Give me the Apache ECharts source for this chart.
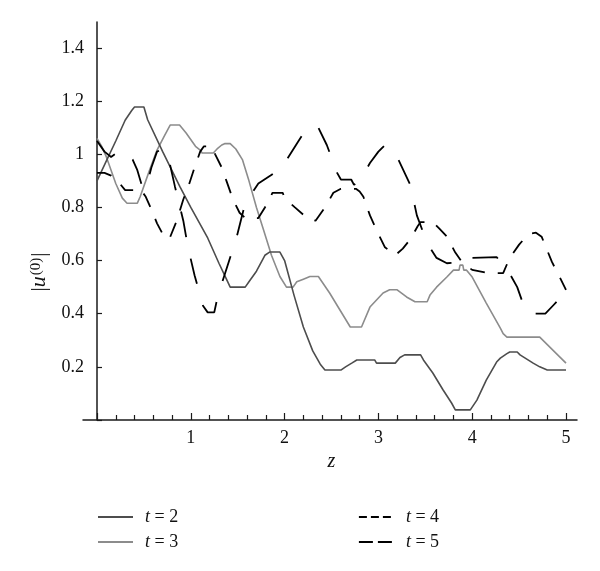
<!DOCTYPE html>
<html><head><meta charset="utf-8">
<script src="https://cdn.jsdelivr.net/npm/echarts@6/dist/echarts.min.js"></script>
<style>html,body{margin:0;padding:0;background:#fff}#c{width:600px;height:571px}</style>
</head><body><div id="c"></div>
<script>
// ---- data (z, |u|) ----
const seriesNames = ['t = 2', 't = 3', 't = 4', 't = 5'];
const t2 = [[0,0.90],[0.1,0.975],[0.2,1.05],[0.3,1.128],[0.37,1.165],[0.4,1.178],[0.5,1.178],[0.54,1.13],[0.7,1.01],[0.885,0.877],[1.0,0.80],[1.18,0.685],[1.3,0.59],[1.38,0.53],[1.42,0.5],[1.58,0.5],[1.62,0.52],[1.7,0.56],[1.76,0.6],[1.79,0.62],[1.84,0.632],[1.95,0.632],[2.0,0.6],[2.1,0.47],[2.2,0.35],[2.3,0.26],[2.38,0.21],[2.43,0.188],[2.6,0.188],[2.65,0.2],[2.72,0.215],[2.77,0.226],[2.96,0.226],[2.98,0.214],[3.18,0.214],[3.23,0.235],[3.28,0.245],[3.45,0.245],[3.48,0.226],[3.58,0.177],[3.69,0.113],[3.78,0.064],[3.82,0.038],[3.98,0.038],[4.05,0.075],[4.15,0.15],[4.26,0.218],[4.3,0.233],[4.37,0.25],[4.4,0.256],[4.48,0.256],[4.51,0.245],[4.65,0.214],[4.72,0.2],[4.8,0.188],[5.0,0.188]];
const t3 = [[0,1.06],[0.05,1.03],[0.1,0.99],[0.2,0.89],[0.27,0.835],[0.32,0.816],[0.43,0.816],[0.46,0.84],[0.55,0.93],[0.64,1.016],[0.72,1.07],[0.78,1.11],[0.88,1.11],[0.95,1.08],[1.05,1.03],[1.1,1.016],[1.12,1.005],[1.24,1.005],[1.28,1.02],[1.33,1.035],[1.36,1.04],[1.42,1.04],[1.48,1.02],[1.55,0.98],[1.62,0.9],[1.7,0.8],[1.78,0.71],[1.86,0.62],[1.95,0.54],[2.02,0.5],[2.09,0.5],[2.13,0.52],[2.2,0.53],[2.27,0.54],[2.36,0.54],[2.48,0.478],[2.59,0.414],[2.7,0.35],[2.82,0.35],[2.91,0.425],[3.05,0.478],[3.12,0.49],[3.2,0.49],[3.3,0.463],[3.39,0.445],[3.52,0.445],[3.55,0.47],[3.62,0.5],[3.73,0.538],[3.8,0.564],[3.86,0.564],[3.87,0.583],[3.9,0.583],[3.91,0.564],[3.94,0.564],[4.0,0.538],[4.15,0.44],[4.3,0.346],[4.33,0.325],[4.37,0.312],[4.72,0.312],[5.0,0.214]];
const t4 = [[0,0.93],[0.08,0.93],[0.15,0.92],[0.22,0.90],[0.3,0.865],[0.4,0.865],[0.46,0.87],[0.52,0.84],[0.57,0.80],[0.64,0.74],[0.7,0.70],[0.77,0.68],[0.85,0.75],[0.92,0.83],[0.98,0.885],[1.04,0.95],[1.1,1.01],[1.14,1.03],[1.22,1.03],[1.26,1.0],[1.33,0.95],[1.38,0.90],[1.45,0.83],[1.52,0.78],[1.58,0.76],[1.72,0.76],[1.79,0.80],[1.84,0.83],[1.87,0.855],[1.98,0.855],[2.0,0.835],[2.11,0.80],[2.24,0.76],[2.33,0.75],[2.43,0.80],[2.52,0.855],[2.6,0.87],[2.76,0.87],[2.8,0.86],[2.84,0.84],[2.91,0.77],[3.0,0.70],[3.07,0.65],[3.18,0.62],[3.26,0.645],[3.34,0.68],[3.42,0.73],[3.45,0.745],[3.58,0.745],[3.65,0.72],[3.73,0.69],[3.82,0.63],[3.9,0.59],[4.0,0.565],[4.17,0.553],[4.33,0.553],[4.4,0.61],[4.5,0.66],[4.6,0.70],[4.68,0.705],[4.74,0.69],[4.85,0.595],[4.93,0.54],[5.0,0.49]];
const t5 = [[0,1.05],[0.08,1.01],[0.15,0.99],[0.23,1.01],[0.3,1.01],[0.38,0.98],[0.43,0.94],[0.48,0.88],[0.52,0.87],[0.58,0.95],[0.64,1.01],[0.7,1.02],[0.76,0.99],[0.83,0.88],[0.92,0.75],[0.97,0.65],[1.04,0.545],[1.13,0.43],[1.18,0.405],[1.25,0.405],[1.29,0.47],[1.4,0.59],[1.49,0.69],[1.58,0.816],[1.72,0.89],[1.85,0.92],[1.97,0.95],[2.14,1.045],[2.24,1.10],[2.36,1.10],[2.45,1.035],[2.56,0.93],[2.6,0.905],[2.71,0.905],[2.74,0.885],[2.8,0.9],[2.91,0.967],[3.0,1.01],[3.07,1.035],[3.2,0.99],[3.34,0.885],[3.41,0.77],[3.52,0.665],[3.62,0.61],[3.73,0.59],[3.92,0.595],[4.0,0.61],[4.26,0.613],[4.37,0.57],[4.48,0.5],[4.54,0.44],[4.62,0.40],[4.78,0.40],[4.86,0.43],[4.94,0.46],[5.0,0.48]];
const xRange = [0, 5];
const yRange = [0, 1.4];

const FONT = '"Liberation Serif", "DejaVu Serif", serif';
const AX = '#1a1a1a';

const chart = echarts.init(document.getElementById('c'), null, {renderer: 'canvas'});
const legendFmt = name => '{i|t}{n|' + name.slice(1) + '}';
const legendRich = {
  i: {fontFamily: FONT, fontStyle: 'italic', fontSize: 18, color: '#111', padding: [0, 0, 0, 7]},
  n: {fontFamily: FONT, fontSize: 18, color: '#111'}
};
const legendBase = {top: 508, orient: 'vertical', padding: 0, itemWidth: 35, itemHeight: 20, itemGap: 7,
  itemStyle: {opacity: 0, color: 'transparent', borderWidth: 0},
  formatter: legendFmt, textStyle: {rich: legendRich}};
chart.setOption({
  animation: false,
  backgroundColor: '#fff',
  grid: [
    {left: 97, right: 34, top: 48, bottom: 151},
    {left: 83, right: 23, top: 48, bottom: 151},
    {left: 97, right: 34, top: 22, bottom: 151}
  ],
  xAxis: [
    {gridIndex: 0, type: 'value', min: xRange[0], max: xRange[1], interval: 1,
     axisLine: {show: false},
     axisTick: {show: true, inside: true, length: 7, lineStyle: {color: AX, width: 1.2}},
     minorTick: {show: true, splitNumber: 5, length: 5, lineStyle: {color: AX, width: 1.2}},
     splitLine: {show: false}, minorSplitLine: {show: false},
     axisLabel: {margin: 9, fontFamily: FONT, fontSize: 18, color: '#111', formatter: v => v === 0 ? '' : String(v)},
     name: 'z', nameLocation: 'middle', nameGap: 30,
     nameTextStyle: {fontFamily: FONT, fontStyle: 'italic', fontSize: 20, color: '#111'}},
    {gridIndex: 1, type: 'value', min: 0, max: 1,
     axisLine: {show: true, lineStyle: {color: AX, width: 1.5}},
     axisTick: {show: false}, axisLabel: {show: false}, splitLine: {show: false}},
    {gridIndex: 2, type: 'value', min: 0, max: 1, show: false}
  ],
  yAxis: [
    {gridIndex: 0, type: 'value', min: yRange[0], max: yRange[1], interval: 0.2,
     axisLine: {show: false},
     axisTick: {show: true, inside: true, length: 5, lineStyle: {color: AX, width: 1.2}},
     splitLine: {show: false},
     axisLabel: {margin: 13, fontFamily: FONT, fontSize: 18, color: '#111',
       formatter: v => v === 0 ? '' : String(Math.round(v * 10) / 10)},
     name: '|{u|u}{s|(0)}|', nameLocation: 'middle', nameGap: 33, nameRotate: 90,
     nameTextStyle: {fontFamily: FONT, fontSize: 21, color: '#111', padding: [0, 76, 0, 0],
       rich: {u: {fontFamily: FONT, fontStyle: 'italic', fontSize: 22, color: '#111'},
              s: {fontFamily: FONT, fontSize: 15, color: '#111', verticalAlign: 'top', padding: [0, 1, 8, 1]}}}},
    {gridIndex: 1, type: 'value', min: 0, max: 1, show: false},
    {gridIndex: 2, type: 'value', min: 0, max: 1,
     axisLine: {show: true, lineStyle: {color: AX, width: 1.5}},
     axisTick: {show: false}, axisLabel: {show: false}, splitLine: {show: false}}
  ],
  legend: [
    Object.assign({left: 97, data: [seriesNames[0], seriesNames[1]]}, legendBase),
    Object.assign({left: 358, data: [
       {name: seriesNames[2], lineStyle: {type: [8, 4], width: 1.8, color: '#000'}},
       {name: seriesNames[3], lineStyle: {type: [14, 5], width: 1.8, color: '#000'}}
     ]}, legendBase)
  ],
  series: [
    {name: seriesNames[0], type: 'line', data: t2, xAxisIndex: 0, yAxisIndex: 0, symbol: 'none', showSymbol: false,
     lineStyle: {color: '#4d4d4d', width: 1.6}, itemStyle: {color: '#4d4d4d'}, z: 3},
    {name: seriesNames[1], type: 'line', data: t3, xAxisIndex: 0, yAxisIndex: 0, symbol: 'none', showSymbol: false,
     lineStyle: {color: '#8c8c8c', width: 1.6}, itemStyle: {color: '#8c8c8c'}, z: 2},
    {name: seriesNames[2], type: 'line', data: t4, xAxisIndex: 0, yAxisIndex: 0, symbol: 'none', showSymbol: false,
     lineStyle: {color: '#000', width: 1.8, type: [15, 13]}, itemStyle: {color: '#000'}, z: 4},
    {name: seriesNames[3], type: 'line', data: t5, xAxisIndex: 0, yAxisIndex: 0, symbol: 'none', showSymbol: false,
     lineStyle: {color: '#000', width: 1.8, type: [26, 22]}, itemStyle: {color: '#000'}, z: 4}
  ]
});
</script></body></html>
